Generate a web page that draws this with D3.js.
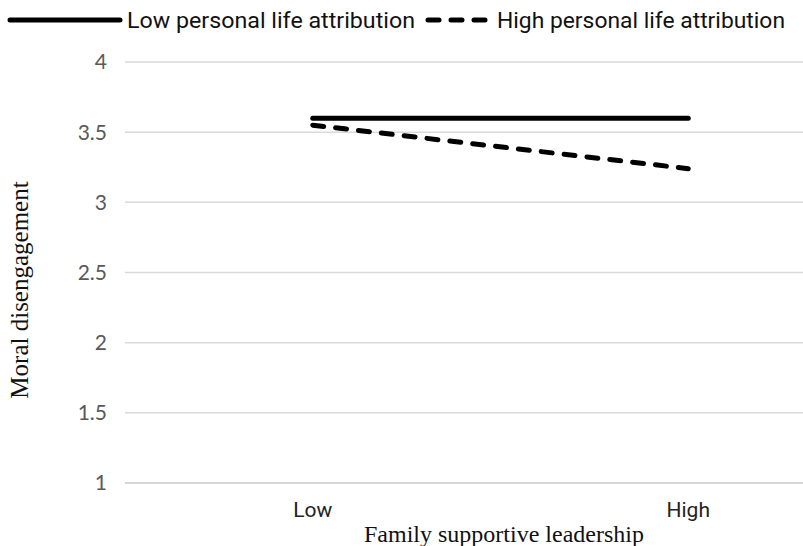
<!DOCTYPE html>
<html>
<head>
<meta charset="utf-8">
<script src="https://cdn.jsdelivr.net/npm/d3@7"></script>
<style>
  body{margin:0;background:#fff;}
  svg{display:block;}
</style>
</head>
<body>
<svg id="chart" width="803" height="546"></svg>
<script>
const categories=["Low","High"];
const lowAttr=[3.60,3.60];
const highAttr=[3.55,3.24];
const yTicks=[1,1.5,2,2.5,3,3.5,4];
const seriesNames=["Low personal life attribution","High personal life attribution"];

const svg=d3.select("#chart");

const x=d3.scalePoint().domain(categories).range([125,876]).padding(0.5);
const y=d3.scaleLinear().domain([1,4]).range([483,62]);

// gridlines
svg.append("g").selectAll("line").data(yTicks).join("line")
  .attr("x1",125).attr("x2",876)
  .attr("y1",d=>y(d)).attr("y2",d=>y(d))
  .attr("stroke",d=>d===1?"#c8c8c8":"#d9d9d9").attr("stroke-width",1.5);

// y tick labels
svg.append("g").selectAll("text").data(yTicks).join("text")
  .attr("x",107).attr("y",d=>y(d)).attr("dy","0.35em")
  .attr("text-anchor","end")
  .attr("font-family","Lato, 'Open Sans', sans-serif").attr("font-size",21)
  .attr("fill","#595959")
  .text(d=>d);

// x tick labels
svg.append("g").selectAll("text").data(categories).join("text")
  .attr("x",d=>x(d)).attr("y",517)
  .attr("text-anchor","middle")
  .attr("font-family","Roboto, sans-serif").attr("font-size",21)
  .attr("fill","#222")
  .text(d=>d);

// axis titles
svg.append("text").attr("x",504).attr("y",542).attr("text-anchor","middle")
  .attr("font-family","'Liberation Serif', 'Times New Roman', serif").attr("font-size",24)
  .attr("fill","#111").text("Family supportive leadership");
svg.append("text").attr("transform","translate(28,290) rotate(-90)").attr("text-anchor","middle")
  .attr("font-family","'Liberation Serif', 'Times New Roman', serif").attr("font-size",25)
  .attr("fill","#111").text("Moral disengagement");

const line=d3.line().x((d,i)=>x(categories[i])).y(d=>y(d));

svg.append("path").datum(lowAttr).attr("d",line)
  .attr("fill","none").attr("stroke","#000").attr("stroke-width",5).attr("stroke-linecap","round");
svg.append("path").datum(highAttr).attr("d",line)
  .attr("fill","none").attr("stroke","#000").attr("stroke-width",5).attr("stroke-linecap","round")
  .attr("stroke-dasharray","11,12");

// legend
const leg=svg.append("g");
leg.append("line").attr("x1",10).attr("x2",120).attr("y1",20).attr("y2",20)
  .attr("stroke","#000").attr("stroke-width",5).attr("stroke-linecap","round");
leg.append("text").attr("x",127).attr("y",28)
  .attr("font-family","Roboto, sans-serif").attr("font-size",22).attr("fill","#111")
  .attr("textLength",288).attr("lengthAdjust","spacingAndGlyphs")
  .text(seriesNames[0]);
leg.append("line").attr("x1",428).attr("x2",490).attr("y1",20).attr("y2",20)
  .attr("stroke","#000").attr("stroke-width",5).attr("stroke-linecap","round")
  .attr("stroke-dasharray","11,12");
leg.append("text").attr("x",497).attr("y",28)
  .attr("font-family","Roboto, sans-serif").attr("font-size",22).attr("fill","#111")
  .attr("textLength",288).attr("lengthAdjust","spacingAndGlyphs")
  .text(seriesNames[1]);
</script>
</body>
</html>
